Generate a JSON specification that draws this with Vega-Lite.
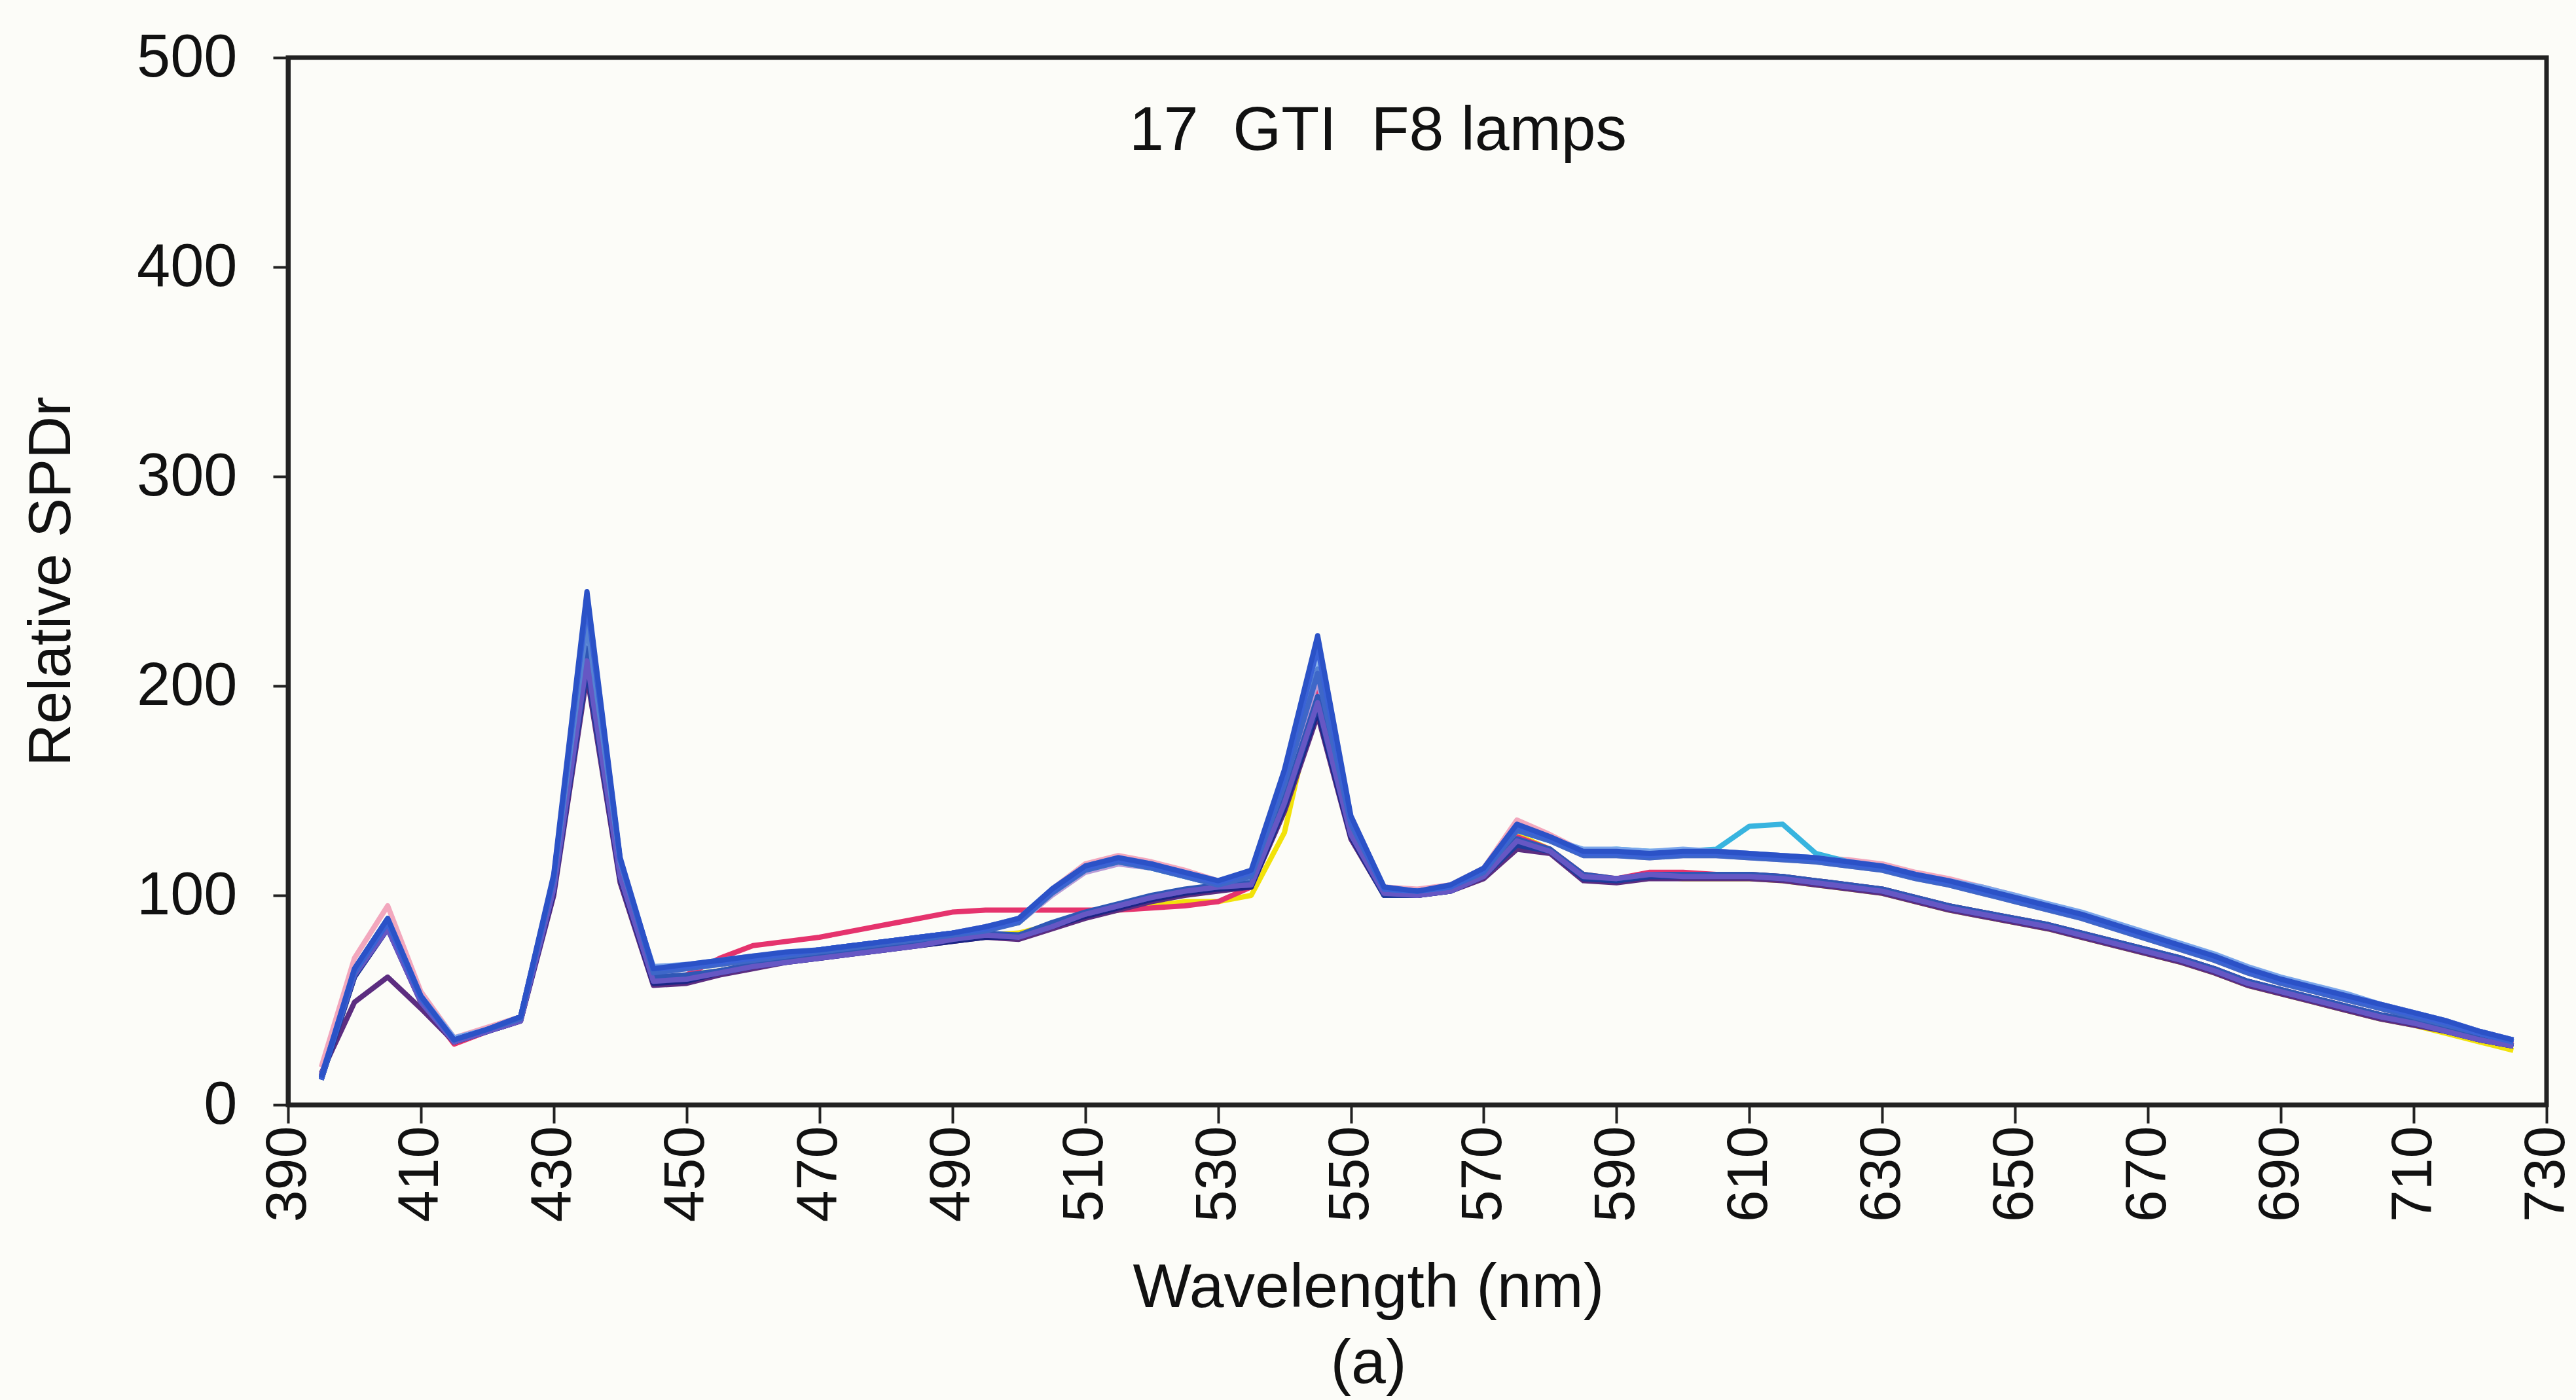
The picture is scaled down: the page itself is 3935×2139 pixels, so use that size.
{
"$schema": "https://vega.github.io/schema/vega-lite/v6.json",
"width": 3450,
"height": 1600,
"autosize": {"type": "none"},
"padding": {"left": 440, "top": 88, "right": 45, "bottom": 451},
"background": "#fcfcf8",
"title": {"text": "17\u00a0\u00a0GTI\u00a0\u00a0F8 lamps", "offset": -207, "dx": -60, "fontSize": 95, "font": "Liberation Sans", "fontWeight": "normal", "color": "#111", "anchor": "middle"},
"data": {"values": [
{"l":4,"w":395,"v":13},{"l":4,"w":400,"v":63},{"l":4,"w":405,"v":88},{"l":4,"w":410,"v":50},{"l":4,"w":415,"v":30},{"l":4,"w":420,"v":35},{"l":4,"w":425,"v":42},{"l":4,"w":430,"v":105},{"l":4,"w":435,"v":228},{"l":4,"w":440,"v":110},{"l":4,"w":445,"v":60},{"l":4,"w":450,"v":62},{"l":4,"w":455,"v":64},{"l":4,"w":460,"v":67},{"l":4,"w":465,"v":69},{"l":4,"w":470,"v":71},{"l":4,"w":475,"v":73},{"l":4,"w":480,"v":75},{"l":4,"w":485,"v":77},{"l":4,"w":490,"v":79},{"l":4,"w":495,"v":81},{"l":4,"w":500,"v":82},{"l":4,"w":505,"v":86},{"l":4,"w":510,"v":90},{"l":4,"w":515,"v":93},{"l":4,"w":520,"v":95},{"l":4,"w":525,"v":97},{"l":4,"w":530,"v":97},{"l":4,"w":535,"v":100},{"l":4,"w":540,"v":130},{"l":4,"w":545,"v":200},{"l":4,"w":550,"v":130},{"l":4,"w":555,"v":101},{"l":4,"w":560,"v":101},{"l":4,"w":565,"v":103},{"l":4,"w":570,"v":110},{"l":4,"w":575,"v":129},{"l":4,"w":580,"v":122},{"l":4,"w":585,"v":109},{"l":4,"w":590,"v":107},{"l":4,"w":595,"v":109},{"l":4,"w":600,"v":108},{"l":4,"w":605,"v":108},{"l":4,"w":610,"v":108},{"l":4,"w":615,"v":107},{"l":4,"w":620,"v":105},{"l":4,"w":625,"v":103},{"l":4,"w":630,"v":101},{"l":4,"w":635,"v":97},{"l":4,"w":640,"v":93},{"l":4,"w":645,"v":90},{"l":4,"w":650,"v":87},{"l":4,"w":655,"v":84},{"l":4,"w":660,"v":80},{"l":4,"w":665,"v":76},{"l":4,"w":670,"v":72},{"l":4,"w":675,"v":68},{"l":4,"w":680,"v":63},{"l":4,"w":685,"v":57},{"l":4,"w":690,"v":53},{"l":4,"w":695,"v":49},{"l":4,"w":700,"v":45},{"l":4,"w":705,"v":41},{"l":4,"w":710,"v":38},{"l":4,"w":715,"v":34},{"l":4,"w":720,"v":30},{"l":4,"w":725,"v":26},
{"l":3,"w":395,"v":14},{"l":3,"w":400,"v":63},{"l":3,"w":405,"v":87},{"l":3,"w":410,"v":50},{"l":3,"w":415,"v":29},{"l":3,"w":420,"v":35},{"l":3,"w":425,"v":41},{"l":3,"w":430,"v":104},{"l":3,"w":435,"v":222},{"l":3,"w":440,"v":112},{"l":3,"w":445,"v":60},{"l":3,"w":450,"v":62},{"l":3,"w":455,"v":70},{"l":3,"w":460,"v":76},{"l":3,"w":465,"v":78},{"l":3,"w":470,"v":80},{"l":3,"w":475,"v":83},{"l":3,"w":480,"v":86},{"l":3,"w":485,"v":89},{"l":3,"w":490,"v":92},{"l":3,"w":495,"v":93},{"l":3,"w":500,"v":93},{"l":3,"w":505,"v":93},{"l":3,"w":510,"v":93},{"l":3,"w":515,"v":93},{"l":3,"w":520,"v":94},{"l":3,"w":525,"v":95},{"l":3,"w":530,"v":97},{"l":3,"w":535,"v":104},{"l":3,"w":540,"v":146},{"l":3,"w":545,"v":198},{"l":3,"w":550,"v":130},{"l":3,"w":555,"v":101},{"l":3,"w":560,"v":101},{"l":3,"w":565,"v":103},{"l":3,"w":570,"v":110},{"l":3,"w":575,"v":128},{"l":3,"w":580,"v":122},{"l":3,"w":585,"v":110},{"l":3,"w":590,"v":108},{"l":3,"w":595,"v":111},{"l":3,"w":600,"v":111},{"l":3,"w":605,"v":110},{"l":3,"w":610,"v":110},{"l":3,"w":615,"v":109},{"l":3,"w":620,"v":107},{"l":3,"w":625,"v":105},{"l":3,"w":630,"v":103},{"l":3,"w":635,"v":99},{"l":3,"w":640,"v":95},{"l":3,"w":645,"v":92},{"l":3,"w":650,"v":89},{"l":3,"w":655,"v":86},{"l":3,"w":660,"v":82},{"l":3,"w":665,"v":78},{"l":3,"w":670,"v":74},{"l":3,"w":675,"v":70},{"l":3,"w":680,"v":65},{"l":3,"w":685,"v":59},{"l":3,"w":690,"v":55},{"l":3,"w":695,"v":51},{"l":3,"w":700,"v":47},{"l":3,"w":705,"v":43},{"l":3,"w":710,"v":40},{"l":3,"w":715,"v":36},{"l":3,"w":720,"v":32},{"l":3,"w":725,"v":29},
{"l":9,"w":395,"v":18},{"l":9,"w":400,"v":70},{"l":9,"w":405,"v":95},{"l":9,"w":410,"v":54},{"l":9,"w":415,"v":32},{"l":9,"w":420,"v":37},{"l":9,"w":425,"v":42},{"l":9,"w":430,"v":108},{"l":9,"w":435,"v":220},{"l":9,"w":440,"v":116},{"l":9,"w":445,"v":65},{"l":9,"w":450,"v":66},{"l":9,"w":455,"v":68},{"l":9,"w":460,"v":70},{"l":9,"w":465,"v":72},{"l":9,"w":470,"v":74},{"l":9,"w":475,"v":76},{"l":9,"w":480,"v":78},{"l":9,"w":485,"v":80},{"l":9,"w":490,"v":82},{"l":9,"w":495,"v":85},{"l":9,"w":500,"v":88},{"l":9,"w":505,"v":103},{"l":9,"w":510,"v":115},{"l":9,"w":515,"v":119},{"l":9,"w":520,"v":116},{"l":9,"w":525,"v":112},{"l":9,"w":530,"v":107},{"l":9,"w":535,"v":111},{"l":9,"w":540,"v":156},{"l":9,"w":545,"v":215},{"l":9,"w":550,"v":136},{"l":9,"w":555,"v":104},{"l":9,"w":560,"v":103},{"l":9,"w":565,"v":105},{"l":9,"w":570,"v":113},{"l":9,"w":575,"v":136},{"l":9,"w":580,"v":129},{"l":9,"w":585,"v":121},{"l":9,"w":590,"v":121},{"l":9,"w":595,"v":120},{"l":9,"w":600,"v":121},{"l":9,"w":605,"v":121},{"l":9,"w":610,"v":120},{"l":9,"w":615,"v":119},{"l":9,"w":620,"v":118},{"l":9,"w":625,"v":117},{"l":9,"w":630,"v":115},{"l":9,"w":635,"v":111},{"l":9,"w":640,"v":108},{"l":9,"w":645,"v":104},{"l":9,"w":650,"v":100},{"l":9,"w":655,"v":95},{"l":9,"w":660,"v":91},{"l":9,"w":665,"v":86},{"l":9,"w":670,"v":81},{"l":9,"w":675,"v":76},{"l":9,"w":680,"v":71},{"l":9,"w":685,"v":65},{"l":9,"w":690,"v":60},{"l":9,"w":695,"v":56},{"l":9,"w":700,"v":52},{"l":9,"w":705,"v":48},{"l":9,"w":710,"v":44},{"l":9,"w":715,"v":40},{"l":9,"w":720,"v":35},{"l":9,"w":725,"v":31},
{"l":15,"w":395,"v":14},{"l":15,"w":400,"v":64},{"l":15,"w":405,"v":88},{"l":15,"w":410,"v":51},{"l":15,"w":415,"v":31},{"l":15,"w":420,"v":36},{"l":15,"w":425,"v":41},{"l":15,"w":430,"v":106},{"l":15,"w":435,"v":216},{"l":15,"w":440,"v":114},{"l":15,"w":445,"v":63},{"l":15,"w":450,"v":65},{"l":15,"w":455,"v":67},{"l":15,"w":460,"v":69},{"l":15,"w":465,"v":71},{"l":15,"w":470,"v":73},{"l":15,"w":475,"v":75},{"l":15,"w":480,"v":77},{"l":15,"w":485,"v":79},{"l":15,"w":490,"v":81},{"l":15,"w":495,"v":84},{"l":15,"w":500,"v":87},{"l":15,"w":505,"v":100},{"l":15,"w":510,"v":111},{"l":15,"w":515,"v":115},{"l":15,"w":520,"v":113},{"l":15,"w":525,"v":109},{"l":15,"w":530,"v":105},{"l":15,"w":535,"v":109},{"l":15,"w":540,"v":151},{"l":15,"w":545,"v":203},{"l":15,"w":550,"v":133},{"l":15,"w":555,"v":103},{"l":15,"w":560,"v":102},{"l":15,"w":565,"v":104},{"l":15,"w":570,"v":112},{"l":15,"w":575,"v":131},{"l":15,"w":580,"v":126},{"l":15,"w":585,"v":119},{"l":15,"w":590,"v":119},{"l":15,"w":595,"v":118},{"l":15,"w":600,"v":119},{"l":15,"w":605,"v":119},{"l":15,"w":610,"v":118},{"l":15,"w":615,"v":117},{"l":15,"w":620,"v":116},{"l":15,"w":625,"v":114},{"l":15,"w":630,"v":112},{"l":15,"w":635,"v":108},{"l":15,"w":640,"v":105},{"l":15,"w":645,"v":101},{"l":15,"w":650,"v":97},{"l":15,"w":655,"v":93},{"l":15,"w":660,"v":89},{"l":15,"w":665,"v":84},{"l":15,"w":670,"v":79},{"l":15,"w":675,"v":74},{"l":15,"w":680,"v":69},{"l":15,"w":685,"v":63},{"l":15,"w":690,"v":58},{"l":15,"w":695,"v":54},{"l":15,"w":700,"v":50},{"l":15,"w":705,"v":46},{"l":15,"w":710,"v":42},{"l":15,"w":715,"v":38},{"l":15,"w":720,"v":34},{"l":15,"w":725,"v":30},
{"l":6,"w":395,"v":15},{"l":6,"w":400,"v":49},{"l":6,"w":405,"v":61},{"l":6,"w":410,"v":46},{"l":6,"w":415,"v":30},{"l":6,"w":420,"v":35},{"l":6,"w":425,"v":40},{"l":6,"w":430,"v":100},{"l":6,"w":435,"v":205},{"l":6,"w":440,"v":106},{"l":6,"w":445,"v":57},{"l":6,"w":450,"v":58},{"l":6,"w":455,"v":62},{"l":6,"w":460,"v":65},{"l":6,"w":465,"v":68},{"l":6,"w":470,"v":70},{"l":6,"w":475,"v":72},{"l":6,"w":480,"v":74},{"l":6,"w":485,"v":76},{"l":6,"w":490,"v":78},{"l":6,"w":495,"v":80},{"l":6,"w":500,"v":79},{"l":6,"w":505,"v":84},{"l":6,"w":510,"v":89},{"l":6,"w":515,"v":93},{"l":6,"w":520,"v":97},{"l":6,"w":525,"v":100},{"l":6,"w":530,"v":102},{"l":6,"w":535,"v":104},{"l":6,"w":540,"v":140},{"l":6,"w":545,"v":186},{"l":6,"w":550,"v":127},{"l":6,"w":555,"v":100},{"l":6,"w":560,"v":100},{"l":6,"w":565,"v":102},{"l":6,"w":570,"v":108},{"l":6,"w":575,"v":122},{"l":6,"w":580,"v":120},{"l":6,"w":585,"v":107},{"l":6,"w":590,"v":106},{"l":6,"w":595,"v":108},{"l":6,"w":600,"v":108},{"l":6,"w":605,"v":108},{"l":6,"w":610,"v":108},{"l":6,"w":615,"v":107},{"l":6,"w":620,"v":105},{"l":6,"w":625,"v":103},{"l":6,"w":630,"v":101},{"l":6,"w":635,"v":97},{"l":6,"w":640,"v":93},{"l":6,"w":645,"v":90},{"l":6,"w":650,"v":87},{"l":6,"w":655,"v":84},{"l":6,"w":660,"v":80},{"l":6,"w":665,"v":76},{"l":6,"w":670,"v":72},{"l":6,"w":675,"v":68},{"l":6,"w":680,"v":63},{"l":6,"w":685,"v":57},{"l":6,"w":690,"v":53},{"l":6,"w":695,"v":49},{"l":6,"w":700,"v":45},{"l":6,"w":705,"v":41},{"l":6,"w":710,"v":38},{"l":6,"w":715,"v":35},{"l":6,"w":720,"v":31},{"l":6,"w":725,"v":28},
{"l":5,"w":395,"v":13},{"l":5,"w":400,"v":64},{"l":5,"w":405,"v":88},{"l":5,"w":410,"v":51},{"l":5,"w":415,"v":31},{"l":5,"w":420,"v":36},{"l":5,"w":425,"v":41},{"l":5,"w":430,"v":107},{"l":5,"w":435,"v":232},{"l":5,"w":440,"v":116},{"l":5,"w":445,"v":64},{"l":5,"w":450,"v":66},{"l":5,"w":455,"v":68},{"l":5,"w":460,"v":70},{"l":5,"w":465,"v":72},{"l":5,"w":470,"v":73},{"l":5,"w":475,"v":75},{"l":5,"w":480,"v":77},{"l":5,"w":485,"v":79},{"l":5,"w":490,"v":81},{"l":5,"w":495,"v":84},{"l":5,"w":500,"v":87},{"l":5,"w":505,"v":101},{"l":5,"w":510,"v":112},{"l":5,"w":515,"v":116},{"l":5,"w":520,"v":113},{"l":5,"w":525,"v":109},{"l":5,"w":530,"v":105},{"l":5,"w":535,"v":109},{"l":5,"w":540,"v":152},{"l":5,"w":545,"v":210},{"l":5,"w":550,"v":134},{"l":5,"w":555,"v":103},{"l":5,"w":560,"v":102},{"l":5,"w":565,"v":104},{"l":5,"w":570,"v":112},{"l":5,"w":575,"v":131},{"l":5,"w":580,"v":126},{"l":5,"w":585,"v":121},{"l":5,"w":590,"v":122},{"l":5,"w":595,"v":121},{"l":5,"w":600,"v":121},{"l":5,"w":605,"v":122},{"l":5,"w":610,"v":133},{"l":5,"w":615,"v":134},{"l":5,"w":620,"v":120},{"l":5,"w":625,"v":116},{"l":5,"w":630,"v":113},{"l":5,"w":635,"v":109},{"l":5,"w":640,"v":106},{"l":5,"w":645,"v":102},{"l":5,"w":650,"v":98},{"l":5,"w":655,"v":94},{"l":5,"w":660,"v":90},{"l":5,"w":665,"v":85},{"l":5,"w":670,"v":80},{"l":5,"w":675,"v":75},{"l":5,"w":680,"v":70},{"l":5,"w":685,"v":64},{"l":5,"w":690,"v":59},{"l":5,"w":695,"v":55},{"l":5,"w":700,"v":51},{"l":5,"w":705,"v":47},{"l":5,"w":710,"v":43},{"l":5,"w":715,"v":39},{"l":5,"w":720,"v":34},{"l":5,"w":725,"v":30},
{"l":8,"w":395,"v":13},{"l":8,"w":400,"v":65},{"l":8,"w":405,"v":89},{"l":8,"w":410,"v":52},{"l":8,"w":415,"v":32},{"l":8,"w":420,"v":36},{"l":8,"w":425,"v":41},{"l":8,"w":430,"v":107},{"l":8,"w":435,"v":226},{"l":8,"w":440,"v":115},{"l":8,"w":445,"v":66},{"l":8,"w":450,"v":67},{"l":8,"w":455,"v":69},{"l":8,"w":460,"v":71},{"l":8,"w":465,"v":72},{"l":8,"w":470,"v":74},{"l":8,"w":475,"v":76},{"l":8,"w":480,"v":78},{"l":8,"w":485,"v":80},{"l":8,"w":490,"v":82},{"l":8,"w":495,"v":85},{"l":8,"w":500,"v":89},{"l":8,"w":505,"v":103},{"l":8,"w":510,"v":114},{"l":8,"w":515,"v":118},{"l":8,"w":520,"v":115},{"l":8,"w":525,"v":111},{"l":8,"w":530,"v":107},{"l":8,"w":535,"v":111},{"l":8,"w":540,"v":158},{"l":8,"w":545,"v":222},{"l":8,"w":550,"v":137},{"l":8,"w":555,"v":104},{"l":8,"w":560,"v":102},{"l":8,"w":565,"v":104},{"l":8,"w":570,"v":112},{"l":8,"w":575,"v":131},{"l":8,"w":580,"v":127},{"l":8,"w":585,"v":122},{"l":8,"w":590,"v":122},{"l":8,"w":595,"v":121},{"l":8,"w":600,"v":122},{"l":8,"w":605,"v":121},{"l":8,"w":610,"v":120},{"l":8,"w":615,"v":119},{"l":8,"w":620,"v":118},{"l":8,"w":625,"v":116},{"l":8,"w":630,"v":114},{"l":8,"w":635,"v":110},{"l":8,"w":640,"v":107},{"l":8,"w":645,"v":104},{"l":8,"w":650,"v":100},{"l":8,"w":655,"v":96},{"l":8,"w":660,"v":92},{"l":8,"w":665,"v":87},{"l":8,"w":670,"v":82},{"l":8,"w":675,"v":77},{"l":8,"w":680,"v":72},{"l":8,"w":685,"v":66},{"l":8,"w":690,"v":61},{"l":8,"w":695,"v":57},{"l":8,"w":700,"v":53},{"l":8,"w":705,"v":48},{"l":8,"w":710,"v":44},{"l":8,"w":715,"v":40},{"l":8,"w":720,"v":35},{"l":8,"w":725,"v":31},
{"l":13,"w":395,"v":13},{"l":13,"w":400,"v":64},{"l":13,"w":405,"v":88},{"l":13,"w":410,"v":51},{"l":13,"w":415,"v":31},{"l":13,"w":420,"v":36},{"l":13,"w":425,"v":42},{"l":13,"w":430,"v":108},{"l":13,"w":435,"v":236},{"l":13,"w":440,"v":116},{"l":13,"w":445,"v":64},{"l":13,"w":450,"v":66},{"l":13,"w":455,"v":68},{"l":13,"w":460,"v":70},{"l":13,"w":465,"v":72},{"l":13,"w":470,"v":74},{"l":13,"w":475,"v":76},{"l":13,"w":480,"v":78},{"l":13,"w":485,"v":80},{"l":13,"w":490,"v":82},{"l":13,"w":495,"v":84},{"l":13,"w":500,"v":88},{"l":13,"w":505,"v":102},{"l":13,"w":510,"v":113},{"l":13,"w":515,"v":117},{"l":13,"w":520,"v":114},{"l":13,"w":525,"v":110},{"l":13,"w":530,"v":106},{"l":13,"w":535,"v":110},{"l":13,"w":540,"v":154},{"l":13,"w":545,"v":212},{"l":13,"w":550,"v":135},{"l":13,"w":555,"v":103},{"l":13,"w":560,"v":102},{"l":13,"w":565,"v":104},{"l":13,"w":570,"v":112},{"l":13,"w":575,"v":132},{"l":13,"w":580,"v":127},{"l":13,"w":585,"v":121},{"l":13,"w":590,"v":121},{"l":13,"w":595,"v":120},{"l":13,"w":600,"v":121},{"l":13,"w":605,"v":121},{"l":13,"w":610,"v":120},{"l":13,"w":615,"v":119},{"l":13,"w":620,"v":118},{"l":13,"w":625,"v":116},{"l":13,"w":630,"v":114},{"l":13,"w":635,"v":110},{"l":13,"w":640,"v":107},{"l":13,"w":645,"v":103},{"l":13,"w":650,"v":99},{"l":13,"w":655,"v":95},{"l":13,"w":660,"v":91},{"l":13,"w":665,"v":86},{"l":13,"w":670,"v":81},{"l":13,"w":675,"v":76},{"l":13,"w":680,"v":71},{"l":13,"w":685,"v":65},{"l":13,"w":690,"v":60},{"l":13,"w":695,"v":56},{"l":13,"w":700,"v":52},{"l":13,"w":705,"v":48},{"l":13,"w":710,"v":44},{"l":13,"w":715,"v":40},{"l":13,"w":720,"v":35},{"l":13,"w":725,"v":31},
{"l":2,"w":395,"v":12},{"l":2,"w":400,"v":61},{"l":2,"w":405,"v":84},{"l":2,"w":410,"v":49},{"l":2,"w":415,"v":30},{"l":2,"w":420,"v":35},{"l":2,"w":425,"v":40},{"l":2,"w":430,"v":102},{"l":2,"w":435,"v":210},{"l":2,"w":440,"v":108},{"l":2,"w":445,"v":58},{"l":2,"w":450,"v":59},{"l":2,"w":455,"v":63},{"l":2,"w":460,"v":66},{"l":2,"w":465,"v":68},{"l":2,"w":470,"v":70},{"l":2,"w":475,"v":72},{"l":2,"w":480,"v":74},{"l":2,"w":485,"v":76},{"l":2,"w":490,"v":78},{"l":2,"w":495,"v":80},{"l":2,"w":500,"v":80},{"l":2,"w":505,"v":85},{"l":2,"w":510,"v":90},{"l":2,"w":515,"v":94},{"l":2,"w":520,"v":98},{"l":2,"w":525,"v":101},{"l":2,"w":530,"v":103},{"l":2,"w":535,"v":104},{"l":2,"w":540,"v":142},{"l":2,"w":545,"v":188},{"l":2,"w":550,"v":128},{"l":2,"w":555,"v":100},{"l":2,"w":560,"v":100},{"l":2,"w":565,"v":102},{"l":2,"w":570,"v":109},{"l":2,"w":575,"v":125},{"l":2,"w":580,"v":121},{"l":2,"w":585,"v":108},{"l":2,"w":590,"v":107},{"l":2,"w":595,"v":109},{"l":2,"w":600,"v":109},{"l":2,"w":605,"v":109},{"l":2,"w":610,"v":109},{"l":2,"w":615,"v":108},{"l":2,"w":620,"v":106},{"l":2,"w":625,"v":104},{"l":2,"w":630,"v":102},{"l":2,"w":635,"v":98},{"l":2,"w":640,"v":94},{"l":2,"w":645,"v":91},{"l":2,"w":650,"v":88},{"l":2,"w":655,"v":85},{"l":2,"w":660,"v":81},{"l":2,"w":665,"v":77},{"l":2,"w":670,"v":73},{"l":2,"w":675,"v":69},{"l":2,"w":680,"v":64},{"l":2,"w":685,"v":58},{"l":2,"w":690,"v":54},{"l":2,"w":695,"v":50},{"l":2,"w":700,"v":46},{"l":2,"w":705,"v":42},{"l":2,"w":710,"v":39},{"l":2,"w":715,"v":35},{"l":2,"w":720,"v":31},{"l":2,"w":725,"v":28},
{"l":12,"w":395,"v":12},{"l":12,"w":400,"v":61},{"l":12,"w":405,"v":85},{"l":12,"w":410,"v":50},{"l":12,"w":415,"v":30},{"l":12,"w":420,"v":35},{"l":12,"w":425,"v":41},{"l":12,"w":430,"v":103},{"l":12,"w":435,"v":208},{"l":12,"w":440,"v":109},{"l":12,"w":445,"v":59},{"l":12,"w":450,"v":60},{"l":12,"w":455,"v":63},{"l":12,"w":460,"v":66},{"l":12,"w":465,"v":69},{"l":12,"w":470,"v":71},{"l":12,"w":475,"v":73},{"l":12,"w":480,"v":75},{"l":12,"w":485,"v":77},{"l":12,"w":490,"v":79},{"l":12,"w":495,"v":81},{"l":12,"w":500,"v":81},{"l":12,"w":505,"v":86},{"l":12,"w":510,"v":91},{"l":12,"w":515,"v":95},{"l":12,"w":520,"v":99},{"l":12,"w":525,"v":102},{"l":12,"w":530,"v":104},{"l":12,"w":535,"v":105},{"l":12,"w":540,"v":143},{"l":12,"w":545,"v":190},{"l":12,"w":550,"v":129},{"l":12,"w":555,"v":100},{"l":12,"w":560,"v":100},{"l":12,"w":565,"v":102},{"l":12,"w":570,"v":109},{"l":12,"w":575,"v":124},{"l":12,"w":580,"v":121},{"l":12,"w":585,"v":108},{"l":12,"w":590,"v":107},{"l":12,"w":595,"v":109},{"l":12,"w":600,"v":109},{"l":12,"w":605,"v":109},{"l":12,"w":610,"v":109},{"l":12,"w":615,"v":108},{"l":12,"w":620,"v":106},{"l":12,"w":625,"v":104},{"l":12,"w":630,"v":102},{"l":12,"w":635,"v":98},{"l":12,"w":640,"v":94},{"l":12,"w":645,"v":91},{"l":12,"w":650,"v":88},{"l":12,"w":655,"v":85},{"l":12,"w":660,"v":81},{"l":12,"w":665,"v":77},{"l":12,"w":670,"v":73},{"l":12,"w":675,"v":69},{"l":12,"w":680,"v":64},{"l":12,"w":685,"v":58},{"l":12,"w":690,"v":54},{"l":12,"w":695,"v":50},{"l":12,"w":700,"v":46},{"l":12,"w":705,"v":42},{"l":12,"w":710,"v":39},{"l":12,"w":715,"v":35},{"l":12,"w":720,"v":32},{"l":12,"w":725,"v":28},
{"l":16,"w":395,"v":13},{"l":16,"w":400,"v":62},{"l":16,"w":405,"v":85},{"l":16,"w":410,"v":50},{"l":16,"w":415,"v":30},{"l":16,"w":420,"v":35},{"l":16,"w":425,"v":41},{"l":16,"w":430,"v":104},{"l":16,"w":435,"v":214},{"l":16,"w":440,"v":110},{"l":16,"w":445,"v":60},{"l":16,"w":450,"v":61},{"l":16,"w":455,"v":64},{"l":16,"w":460,"v":67},{"l":16,"w":465,"v":69},{"l":16,"w":470,"v":71},{"l":16,"w":475,"v":73},{"l":16,"w":480,"v":75},{"l":16,"w":485,"v":77},{"l":16,"w":490,"v":79},{"l":16,"w":495,"v":81},{"l":16,"w":500,"v":81},{"l":16,"w":505,"v":86},{"l":16,"w":510,"v":91},{"l":16,"w":515,"v":95},{"l":16,"w":520,"v":99},{"l":16,"w":525,"v":102},{"l":16,"w":530,"v":104},{"l":16,"w":535,"v":105},{"l":16,"w":540,"v":145},{"l":16,"w":545,"v":194},{"l":16,"w":550,"v":130},{"l":16,"w":555,"v":101},{"l":16,"w":560,"v":101},{"l":16,"w":565,"v":103},{"l":16,"w":570,"v":110},{"l":16,"w":575,"v":126},{"l":16,"w":580,"v":122},{"l":16,"w":585,"v":109},{"l":16,"w":590,"v":108},{"l":16,"w":595,"v":110},{"l":16,"w":600,"v":110},{"l":16,"w":605,"v":110},{"l":16,"w":610,"v":110},{"l":16,"w":615,"v":109},{"l":16,"w":620,"v":107},{"l":16,"w":625,"v":105},{"l":16,"w":630,"v":103},{"l":16,"w":635,"v":99},{"l":16,"w":640,"v":95},{"l":16,"w":645,"v":92},{"l":16,"w":650,"v":89},{"l":16,"w":655,"v":86},{"l":16,"w":660,"v":82},{"l":16,"w":665,"v":78},{"l":16,"w":670,"v":74},{"l":16,"w":675,"v":70},{"l":16,"w":680,"v":65},{"l":16,"w":685,"v":59},{"l":16,"w":690,"v":55},{"l":16,"w":695,"v":51},{"l":16,"w":700,"v":47},{"l":16,"w":705,"v":43},{"l":16,"w":710,"v":40},{"l":16,"w":715,"v":36},{"l":16,"w":720,"v":32},{"l":16,"w":725,"v":28},
{"l":10,"w":395,"v":13},{"l":10,"w":400,"v":62},{"l":10,"w":405,"v":85},{"l":10,"w":410,"v":50},{"l":10,"w":415,"v":30},{"l":10,"w":420,"v":35},{"l":10,"w":425,"v":41},{"l":10,"w":430,"v":104},{"l":10,"w":435,"v":218},{"l":10,"w":440,"v":111},{"l":10,"w":445,"v":61},{"l":10,"w":450,"v":62},{"l":10,"w":455,"v":64},{"l":10,"w":460,"v":67},{"l":10,"w":465,"v":69},{"l":10,"w":470,"v":71},{"l":10,"w":475,"v":73},{"l":10,"w":480,"v":75},{"l":10,"w":485,"v":77},{"l":10,"w":490,"v":80},{"l":10,"w":495,"v":82},{"l":10,"w":500,"v":81},{"l":10,"w":505,"v":87},{"l":10,"w":510,"v":92},{"l":10,"w":515,"v":96},{"l":10,"w":520,"v":100},{"l":10,"w":525,"v":103},{"l":10,"w":530,"v":105},{"l":10,"w":535,"v":106},{"l":10,"w":540,"v":146},{"l":10,"w":545,"v":195},{"l":10,"w":550,"v":131},{"l":10,"w":555,"v":101},{"l":10,"w":560,"v":101},{"l":10,"w":565,"v":103},{"l":10,"w":570,"v":110},{"l":10,"w":575,"v":127},{"l":10,"w":580,"v":122},{"l":10,"w":585,"v":110},{"l":10,"w":590,"v":108},{"l":10,"w":595,"v":110},{"l":10,"w":600,"v":110},{"l":10,"w":605,"v":110},{"l":10,"w":610,"v":110},{"l":10,"w":615,"v":109},{"l":10,"w":620,"v":107},{"l":10,"w":625,"v":105},{"l":10,"w":630,"v":103},{"l":10,"w":635,"v":99},{"l":10,"w":640,"v":95},{"l":10,"w":645,"v":92},{"l":10,"w":650,"v":89},{"l":10,"w":655,"v":86},{"l":10,"w":660,"v":82},{"l":10,"w":665,"v":78},{"l":10,"w":670,"v":74},{"l":10,"w":675,"v":70},{"l":10,"w":680,"v":65},{"l":10,"w":685,"v":59},{"l":10,"w":690,"v":55},{"l":10,"w":695,"v":51},{"l":10,"w":700,"v":47},{"l":10,"w":705,"v":43},{"l":10,"w":710,"v":40},{"l":10,"w":715,"v":36},{"l":10,"w":720,"v":32},{"l":10,"w":725,"v":28},
{"l":11,"w":395,"v":14},{"l":11,"w":400,"v":62},{"l":11,"w":405,"v":84},{"l":11,"w":410,"v":49},{"l":11,"w":415,"v":30},{"l":11,"w":420,"v":35},{"l":11,"w":425,"v":40},{"l":11,"w":430,"v":103},{"l":11,"w":435,"v":212},{"l":11,"w":440,"v":109},{"l":11,"w":445,"v":59},{"l":11,"w":450,"v":60},{"l":11,"w":455,"v":63},{"l":11,"w":460,"v":66},{"l":11,"w":465,"v":68},{"l":11,"w":470,"v":70},{"l":11,"w":475,"v":72},{"l":11,"w":480,"v":74},{"l":11,"w":485,"v":76},{"l":11,"w":490,"v":79},{"l":11,"w":495,"v":81},{"l":11,"w":500,"v":80},{"l":11,"w":505,"v":85},{"l":11,"w":510,"v":91},{"l":11,"w":515,"v":95},{"l":11,"w":520,"v":99},{"l":11,"w":525,"v":102},{"l":11,"w":530,"v":104},{"l":11,"w":535,"v":105},{"l":11,"w":540,"v":144},{"l":11,"w":545,"v":192},{"l":11,"w":550,"v":129},{"l":11,"w":555,"v":101},{"l":11,"w":560,"v":100},{"l":11,"w":565,"v":102},{"l":11,"w":570,"v":109},{"l":11,"w":575,"v":126},{"l":11,"w":580,"v":121},{"l":11,"w":585,"v":109},{"l":11,"w":590,"v":108},{"l":11,"w":595,"v":110},{"l":11,"w":600,"v":109},{"l":11,"w":605,"v":109},{"l":11,"w":610,"v":109},{"l":11,"w":615,"v":108},{"l":11,"w":620,"v":106},{"l":11,"w":625,"v":104},{"l":11,"w":630,"v":102},{"l":11,"w":635,"v":98},{"l":11,"w":640,"v":94},{"l":11,"w":645,"v":91},{"l":11,"w":650,"v":88},{"l":11,"w":655,"v":85},{"l":11,"w":660,"v":81},{"l":11,"w":665,"v":77},{"l":11,"w":670,"v":73},{"l":11,"w":675,"v":69},{"l":11,"w":680,"v":64},{"l":11,"w":685,"v":58},{"l":11,"w":690,"v":54},{"l":11,"w":695,"v":50},{"l":11,"w":700,"v":46},{"l":11,"w":705,"v":42},{"l":11,"w":710,"v":39},{"l":11,"w":715,"v":35},{"l":11,"w":720,"v":31},{"l":11,"w":725,"v":28},
{"l":17,"w":395,"v":13},{"l":17,"w":400,"v":64},{"l":17,"w":405,"v":88},{"l":17,"w":410,"v":51},{"l":17,"w":415,"v":31},{"l":17,"w":420,"v":36},{"l":17,"w":425,"v":42},{"l":17,"w":430,"v":108},{"l":17,"w":435,"v":230},{"l":17,"w":440,"v":116},{"l":17,"w":445,"v":64},{"l":17,"w":450,"v":66},{"l":17,"w":455,"v":68},{"l":17,"w":460,"v":70},{"l":17,"w":465,"v":72},{"l":17,"w":470,"v":74},{"l":17,"w":475,"v":76},{"l":17,"w":480,"v":78},{"l":17,"w":485,"v":80},{"l":17,"w":490,"v":82},{"l":17,"w":495,"v":84},{"l":17,"w":500,"v":88},{"l":17,"w":505,"v":102},{"l":17,"w":510,"v":113},{"l":17,"w":515,"v":117},{"l":17,"w":520,"v":114},{"l":17,"w":525,"v":110},{"l":17,"w":530,"v":106},{"l":17,"w":535,"v":110},{"l":17,"w":540,"v":155},{"l":17,"w":545,"v":208},{"l":17,"w":550,"v":135},{"l":17,"w":555,"v":103},{"l":17,"w":560,"v":102},{"l":17,"w":565,"v":104},{"l":17,"w":570,"v":112},{"l":17,"w":575,"v":132},{"l":17,"w":580,"v":127},{"l":17,"w":585,"v":120},{"l":17,"w":590,"v":120},{"l":17,"w":595,"v":119},{"l":17,"w":600,"v":120},{"l":17,"w":605,"v":120},{"l":17,"w":610,"v":119},{"l":17,"w":615,"v":118},{"l":17,"w":620,"v":117},{"l":17,"w":625,"v":115},{"l":17,"w":630,"v":113},{"l":17,"w":635,"v":109},{"l":17,"w":640,"v":106},{"l":17,"w":645,"v":102},{"l":17,"w":650,"v":98},{"l":17,"w":655,"v":94},{"l":17,"w":660,"v":90},{"l":17,"w":665,"v":85},{"l":17,"w":670,"v":80},{"l":17,"w":675,"v":75},{"l":17,"w":680,"v":70},{"l":17,"w":685,"v":64},{"l":17,"w":690,"v":59},{"l":17,"w":695,"v":55},{"l":17,"w":700,"v":51},{"l":17,"w":705,"v":47},{"l":17,"w":710,"v":43},{"l":17,"w":715,"v":39},{"l":17,"w":720,"v":34},{"l":17,"w":725,"v":30},
{"l":14,"w":395,"v":13},{"l":14,"w":400,"v":63},{"l":14,"w":405,"v":87},{"l":14,"w":410,"v":51},{"l":14,"w":415,"v":31},{"l":14,"w":420,"v":36},{"l":14,"w":425,"v":41},{"l":14,"w":430,"v":108},{"l":14,"w":435,"v":242},{"l":14,"w":440,"v":117},{"l":14,"w":445,"v":63},{"l":14,"w":450,"v":65},{"l":14,"w":455,"v":67},{"l":14,"w":460,"v":69},{"l":14,"w":465,"v":71},{"l":14,"w":470,"v":73},{"l":14,"w":475,"v":75},{"l":14,"w":480,"v":77},{"l":14,"w":485,"v":79},{"l":14,"w":490,"v":81},{"l":14,"w":495,"v":83},{"l":14,"w":500,"v":87},{"l":14,"w":505,"v":101},{"l":14,"w":510,"v":112},{"l":14,"w":515,"v":116},{"l":14,"w":520,"v":113},{"l":14,"w":525,"v":109},{"l":14,"w":530,"v":105},{"l":14,"w":535,"v":109},{"l":14,"w":540,"v":153},{"l":14,"w":545,"v":206},{"l":14,"w":550,"v":134},{"l":14,"w":555,"v":103},{"l":14,"w":560,"v":102},{"l":14,"w":565,"v":104},{"l":14,"w":570,"v":111},{"l":14,"w":575,"v":131},{"l":14,"w":580,"v":126},{"l":14,"w":585,"v":119},{"l":14,"w":590,"v":119},{"l":14,"w":595,"v":118},{"l":14,"w":600,"v":119},{"l":14,"w":605,"v":119},{"l":14,"w":610,"v":118},{"l":14,"w":615,"v":117},{"l":14,"w":620,"v":116},{"l":14,"w":625,"v":114},{"l":14,"w":630,"v":112},{"l":14,"w":635,"v":108},{"l":14,"w":640,"v":105},{"l":14,"w":645,"v":101},{"l":14,"w":650,"v":97},{"l":14,"w":655,"v":93},{"l":14,"w":660,"v":89},{"l":14,"w":665,"v":84},{"l":14,"w":670,"v":79},{"l":14,"w":675,"v":74},{"l":14,"w":680,"v":69},{"l":14,"w":685,"v":63},{"l":14,"w":690,"v":58},{"l":14,"w":695,"v":54},{"l":14,"w":700,"v":50},{"l":14,"w":705,"v":46},{"l":14,"w":710,"v":42},{"l":14,"w":715,"v":38},{"l":14,"w":720,"v":34},{"l":14,"w":725,"v":30},
{"l":7,"w":395,"v":12},{"l":7,"w":400,"v":64},{"l":7,"w":405,"v":87},{"l":7,"w":410,"v":51},{"l":7,"w":415,"v":31},{"l":7,"w":420,"v":36},{"l":7,"w":425,"v":42},{"l":7,"w":430,"v":109},{"l":7,"w":435,"v":240},{"l":7,"w":440,"v":117},{"l":7,"w":445,"v":65},{"l":7,"w":450,"v":66},{"l":7,"w":455,"v":68},{"l":7,"w":460,"v":70},{"l":7,"w":465,"v":72},{"l":7,"w":470,"v":74},{"l":7,"w":475,"v":76},{"l":7,"w":480,"v":78},{"l":7,"w":485,"v":80},{"l":7,"w":490,"v":82},{"l":7,"w":495,"v":84},{"l":7,"w":500,"v":88},{"l":7,"w":505,"v":102},{"l":7,"w":510,"v":113},{"l":7,"w":515,"v":117},{"l":7,"w":520,"v":114},{"l":7,"w":525,"v":110},{"l":7,"w":530,"v":106},{"l":7,"w":535,"v":111},{"l":7,"w":540,"v":157},{"l":7,"w":545,"v":218},{"l":7,"w":550,"v":136},{"l":7,"w":555,"v":103},{"l":7,"w":560,"v":102},{"l":7,"w":565,"v":104},{"l":7,"w":570,"v":112},{"l":7,"w":575,"v":133},{"l":7,"w":580,"v":127},{"l":7,"w":585,"v":120},{"l":7,"w":590,"v":120},{"l":7,"w":595,"v":119},{"l":7,"w":600,"v":120},{"l":7,"w":605,"v":120},{"l":7,"w":610,"v":119},{"l":7,"w":615,"v":118},{"l":7,"w":620,"v":117},{"l":7,"w":625,"v":115},{"l":7,"w":630,"v":113},{"l":7,"w":635,"v":109},{"l":7,"w":640,"v":106},{"l":7,"w":645,"v":102},{"l":7,"w":650,"v":98},{"l":7,"w":655,"v":94},{"l":7,"w":660,"v":90},{"l":7,"w":665,"v":85},{"l":7,"w":670,"v":80},{"l":7,"w":675,"v":75},{"l":7,"w":680,"v":70},{"l":7,"w":685,"v":64},{"l":7,"w":690,"v":59},{"l":7,"w":695,"v":55},{"l":7,"w":700,"v":51},{"l":7,"w":705,"v":47},{"l":7,"w":710,"v":43},{"l":7,"w":715,"v":39},{"l":7,"w":720,"v":34},{"l":7,"w":725,"v":30},
{"l":1,"w":395,"v":13},{"l":1,"w":400,"v":65},{"l":1,"w":405,"v":89},{"l":1,"w":410,"v":52},{"l":1,"w":415,"v":31},{"l":1,"w":420,"v":36},{"l":1,"w":425,"v":42},{"l":1,"w":430,"v":110},{"l":1,"w":435,"v":245},{"l":1,"w":440,"v":118},{"l":1,"w":445,"v":65},{"l":1,"w":450,"v":67},{"l":1,"w":455,"v":69},{"l":1,"w":460,"v":71},{"l":1,"w":465,"v":73},{"l":1,"w":470,"v":74},{"l":1,"w":475,"v":76},{"l":1,"w":480,"v":78},{"l":1,"w":485,"v":80},{"l":1,"w":490,"v":82},{"l":1,"w":495,"v":85},{"l":1,"w":500,"v":89},{"l":1,"w":505,"v":103},{"l":1,"w":510,"v":114},{"l":1,"w":515,"v":118},{"l":1,"w":520,"v":115},{"l":1,"w":525,"v":111},{"l":1,"w":530,"v":107},{"l":1,"w":535,"v":112},{"l":1,"w":540,"v":160},{"l":1,"w":545,"v":224},{"l":1,"w":550,"v":138},{"l":1,"w":555,"v":104},{"l":1,"w":560,"v":102},{"l":1,"w":565,"v":105},{"l":1,"w":570,"v":113},{"l":1,"w":575,"v":134},{"l":1,"w":580,"v":128},{"l":1,"w":585,"v":121},{"l":1,"w":590,"v":121},{"l":1,"w":595,"v":120},{"l":1,"w":600,"v":121},{"l":1,"w":605,"v":121},{"l":1,"w":610,"v":120},{"l":1,"w":615,"v":119},{"l":1,"w":620,"v":118},{"l":1,"w":625,"v":116},{"l":1,"w":630,"v":114},{"l":1,"w":635,"v":110},{"l":1,"w":640,"v":107},{"l":1,"w":645,"v":103},{"l":1,"w":650,"v":99},{"l":1,"w":655,"v":95},{"l":1,"w":660,"v":91},{"l":1,"w":665,"v":86},{"l":1,"w":670,"v":81},{"l":1,"w":675,"v":76},{"l":1,"w":680,"v":71},{"l":1,"w":685,"v":65},{"l":1,"w":690,"v":60},{"l":1,"w":695,"v":56},{"l":1,"w":700,"v":52},{"l":1,"w":705,"v":48},{"l":1,"w":710,"v":44},{"l":1,"w":715,"v":40},{"l":1,"w":720,"v":35},{"l":1,"w":725,"v":31}
]},
"mark": {"type": "line", "strokeWidth": 8, "strokeJoin": "round", "clip": true},
"encoding": {
  "x": {"field": "w", "type": "quantitative", "scale": {"domain": [390, 730], "nice": false, "zero": false},
        "axis": {"values": [390,410,430,450,470,490,510,530,550,570,590,610,630,650,670,690,710,730], "labelAngle": -90, "labelFontSize": 88, "labelPadding": 4, "tickSize": 28, "title": ["Wavelength (nm)", "(a)"], "titleFontSize": 95, "titleLineHeight": 116, "titlePadding": 55, "titleX": 1650, "titleAlign": "center", "labelFlush": false, "labelOverlap": false}},
  "y": {"field": "v", "type": "quantitative", "scale": {"domain": [0, 500], "nice": false},
        "axis": {"values": [0,100,200,300,400,500], "labelFontSize": 92, "labelPadding": 55, "tickSize": 23, "title": "Relative SPDr", "titleFontSize": 90, "titlePadding": 115, "labelFlush": false}},
  "color": {"field": "l", "type": "nominal", "legend": null,
    "scale": {"domain": [1,2,3,4,5,6,7,8,9,10,11,12,13,14,15,16,17],
              "range": ["#2b52c7","#1b2585","#e5336d","#f2e20a","#38b4df","#5c2d80","#3a62d6","#7ba6ea","#f2a7bd","#2f57b5","#6657c4","#1e3c9c","#92b9ee","#3e67c8","#b89bd6","#2a48a6","#5682d2"]}}
},
"config": {
  "view": {"stroke": "#222", "strokeWidth": 7},
  "axis": {"domainColor": "#222", "domainWidth": 7, "tickColor": "#222", "tickWidth": 4, "grid": false, "labelFont": "Liberation Sans", "titleFont": "Liberation Sans", "labelColor": "#111", "titleColor": "#111", "titleFontWeight": "normal"}
}
}
